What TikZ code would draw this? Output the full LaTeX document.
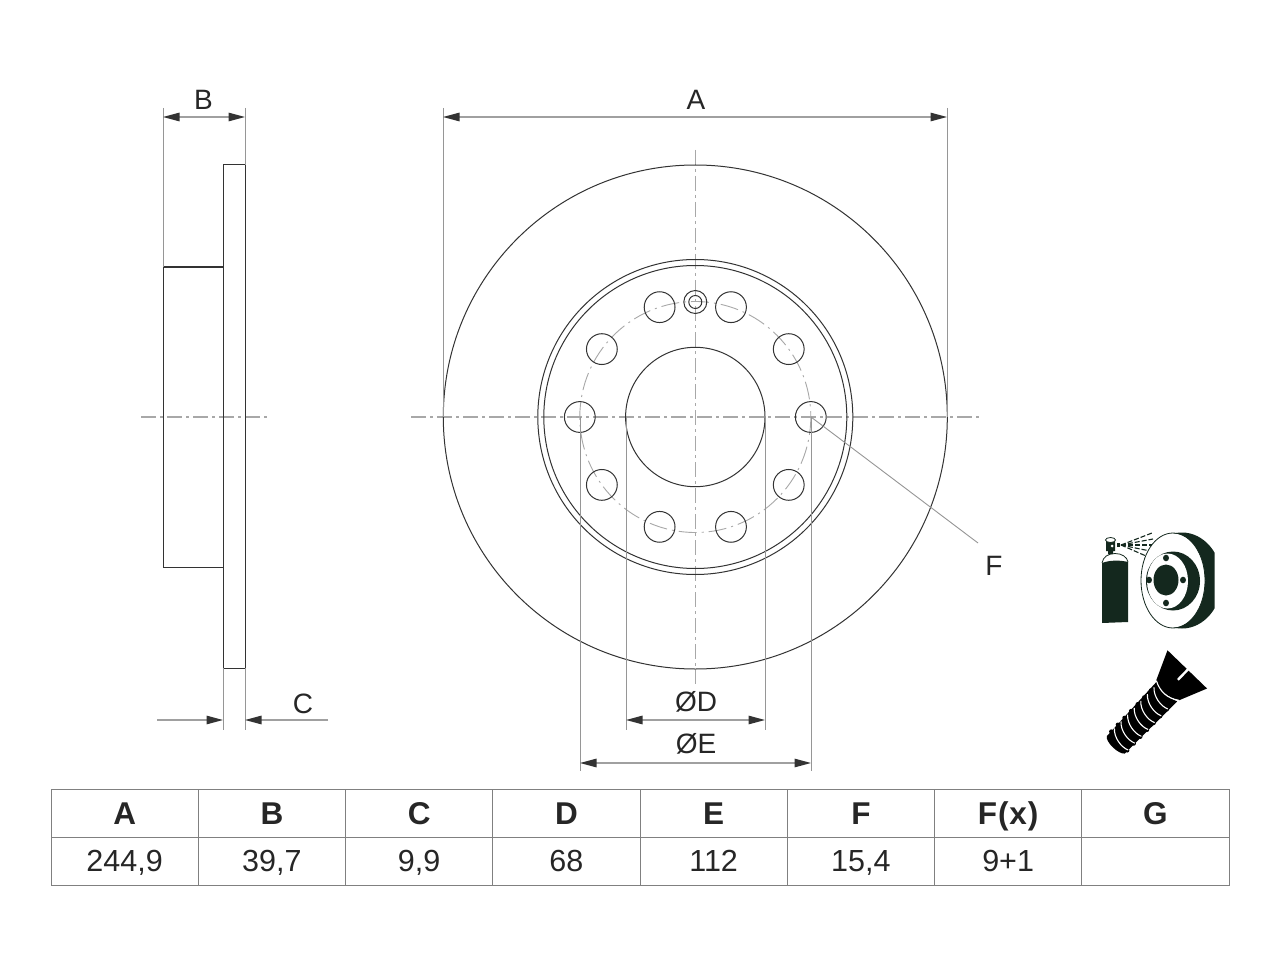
\documentclass[tikz,border=0pt]{standalone}
\usepackage{fontspec}
\setmainfont{Liberation Sans}
\usetikzlibrary{arrows.meta,calc}
\definecolor{ink}{HTML}{333333}
\definecolor{ext}{HTML}{969696}
\definecolor{dimc}{HTML}{A0A0A0}
\definecolor{axc}{HTML}{A8A8A8}
\definecolor{grid}{HTML}{808080}
\definecolor{icon}{HTML}{14281E}
\tikzset{
  x=1pt,y=-1pt,
  outline/.style={draw=ink,line width=1pt},
  extline/.style={draw=ext,line width=1pt},
  dimline/.style={draw=dimc,line width=1.3pt},
  tip/.style={-{Triangle[length=16.5pt,width=8.5pt,color=ink]}},
  tips/.style={{Triangle[length=16.5pt,width=8.5pt,color=ink]}-{Triangle[length=16.5pt,width=8.5pt,color=ink]}},
  axis/.style={draw=axc,line width=1.2pt,dash pattern=on 15pt off 4pt on 3pt off 4pt},
  bolt/.style={draw=axc,line width=.9pt,dash pattern=on 18pt off 5pt on 2pt off 5pt},
  dimtext/.style={text=black!85,inner sep=0pt,anchor=base,font=\fontsize{28}{32}\selectfont},
  cell/.style={draw=grid,line width=1pt,minimum width=147.25pt,minimum height=48pt,inner sep=0pt,anchor=center,text=black!85,text depth=0pt},
  head/.style={cell,text height=22.6pt,font=\bfseries\fontsize{31.5}{34}\selectfont},
  val/.style={cell,text height=21.4pt,font=\fontsize{30.5}{34}\selectfont},
}
\begin{document}
\begin{tikzpicture}
\useasboundingbox (0,0) rectangle (1280,960);
\fill[white] (0,0) rectangle (1280,960);
% side view
\coordinate (c0) at (695.3,417);
\draw[axis] (141,417) -- (267,417);
\draw[outline] (223,165) rectangle (245,668);
\draw[outline] (163,267) rectangle (223,567);
% extension points
\coordinate (bt1) at (163,108); \coordinate (bb1) at (163,267);
\coordinate (bt2) at (245,108); \coordinate (bb2) at (245,165);
\draw[extline] (bt1) -- (bb1); \draw[extline] (bt2) -- (bb2);
\coordinate (bl) at (163,117); \coordinate (br) at (245,117);
\draw[dimline,tips] (bl) -- (br);
\node[dimtext] (lb) at (203.5,110) {B};
% C
\coordinate (ct1) at (223,668); \coordinate (cb1) at (223,730);
\coordinate (ct2) at (245,668); \coordinate (cb2) at (245,730);
\draw[extline] (ct1) -- (cb1); \draw[extline] (ct2) -- (cb2);
\coordinate (c1a) at (157,720); \coordinate (c1b) at (223,720);
\coordinate (c2a) at (328,720); \coordinate (c2b) at (245,720);
\draw[dimline,tip] (c1a) -- (c1b);
\draw[dimline,tip] (c2a) -- (c2b);
\node[dimtext] (lc) at (303,713) {C};
% disc
\draw[axis] (411,417) -- (979,417);
\draw[axis] (695.3,150) -- (695.3,684);
\draw[outline] (c0) circle[radius=252];
\draw[outline] (c0) circle[radius=157.5];
\draw[outline] (c0) circle[radius=151.5];
\draw[outline] (c0) circle[radius=69.7];
\draw[bolt] (c0) circle[radius=115.5];
\foreach \a in {0,36,72,108,144,180,216,252,288,324}
  \draw[outline] ($(c0)+(\a:115.5 and -115.5)$) circle[radius=15.4];
\draw[outline] (695.3,302) circle[radius=11.5];
\draw[outline] (695.3,302) circle[radius=6.5];
% A
\coordinate (at1) at (443,108); \coordinate (ab1) at (443,417);
\coordinate (at2) at (947,108); \coordinate (ab2) at (947,417);
\draw[extline] (at1) -- (ab1); \draw[extline] (at2) -- (ab2);
\coordinate (al) at (443,117); \coordinate (ar) at (947,117);
\draw[dimline,tips] (al) -- (ar);
\node[dimtext] (la) at (696,110) {A};
% D
\coordinate (dt1) at (626,417); \coordinate (db1) at (626,730);
\coordinate (dt2) at (765,417); \coordinate (db2) at (765,730);
\draw[extline] (dt1) -- (db1); \draw[extline] (dt2) -- (db2);
\coordinate (dl) at (626,720); \coordinate (dr) at (765,720);
\draw[dimline,tips] (dl) -- (dr);
\node[dimtext] (ld) at (696,711.5) {ØD};
% E
\coordinate (et1) at (580,417); \coordinate (eb1) at (580,771);
\coordinate (et2) at (811,417); \coordinate (eb2) at (811,771);
\draw[extline] (et1) -- (eb1); \draw[extline] (et2) -- (eb2);
\coordinate (el) at (580,763); \coordinate (er) at (811,763);
\draw[dimline,tips] (el) -- (er);
\node[dimtext] (le) at (696,753.5) {ØE};
% F
\node[dimtext] (lf) at (994,575) {F};
\coordinate (fa) at (811,417); \coordinate (fb) at (978,543);
\draw[draw=ext,line width=.9pt] (fa) -- (fb);
% spray icon
\begin{scope}
\fill[icon] (1102,623) -- (1102,563) .. controls (1110,560) and (1120,560) .. (1128,562) -- (1128,622) -- cycle;
\draw[icon,line width=.8pt] (1102,563) .. controls (1103,557) and (1108,553.5) .. (1115,553.5) .. controls (1122,553.5) and (1127,557) .. (1128,562);
\fill[icon] (1106,541) rectangle (1115,551) (1108,551) rectangle (1113,554);
\draw[icon,line width=.8pt,fill=white] (1110.5,540) ellipse[x radius=5, y radius=2.5];
\fill[white] (1112,546) circle[radius=1.5];
\fill[icon] (1117,543) rectangle (1120,547);
\foreach \q in {(1152,533),(1153,539),(1152,545),(1150,551),(1146,556)}
  \draw[icon,line width=1.1pt,dash pattern=on 5pt off 2pt] (1121,545) -- \q;
\begin{scope}
\clip (1130,520) rectangle (1214.5,640);
\fill[icon] (1182,580.5) ellipse[x radius=40, y radius=48];
\fill[white] (1173,580.5) ellipse[x radius=32, y radius=47];
\draw[icon,line width=.8pt] (1173,580.5) ellipse[x radius=32, y radius=47.5];
\fill[icon] (1173,581) ellipse[x radius=27, y radius=29.5];
\fill[white] (1167.5,581) ellipse[x radius=20.5, y radius=27.5];
\end{scope}
\fill[icon] (1166,580) ellipse[x radius=12.5, y radius=15.5];
\foreach \p in {(1166,558),(1166,603),(1149,580),(1183,580)} \fill[icon] \p ellipse[x radius=3, y radius=3.3];
\end{scope}
% screw icon
\begin{scope}[shift={(1114,746)},rotate=46]
\fill[black] (2,-12) .. controls (-3,-9) and (-3,9) .. (2,13) -- (76,14.5) .. controls (72,5) and (72,-5) .. (76,-14) -- cycle;
\foreach \t in {4,13.5,23,32.5,42,51.5,61}{
  \fill[black] (\t+4.5,-12) circle[radius=2.2];
  \fill[black] (\t+2,12.5) circle[radius=2.2];
}
\fill[black] (76,-15) -- (106,-28) -- (106,27) -- (78,15) .. controls (72,5) and (72,-5) .. (76,-15) -- cycle;
\fill[white] (92,-1.2) rectangle (107,1.2);
\foreach \t in {6,15.5,25,34.5,44,53.5,63}
  \draw[white,line width=1.1pt] (\t+7,-12) .. controls (\t,-6) and (\t-2,6) .. (\t+1,13);
\draw[white,line width=1.1pt] (76.5,-15) .. controls (71,-5) and (71,5) .. (78,15);
\end{scope}
% table
\foreach \i/\h/\v [evaluate=\i as \cx using 51+147.25*(\i-0.5)] in {1/A/{244,9},2/B/{39,7},3/C/{9,9},4/D/68,5/E/112,6/F/{15,4},7/{\addfontfeature{LetterSpace=3}F(x)}/9+1,8/G/{}}{
  \node[head] (h\i) at (\cx,813) {\h};
  \node[val] (v\i) at (\cx,861) {\v};
}
\end{tikzpicture}
\end{document}
